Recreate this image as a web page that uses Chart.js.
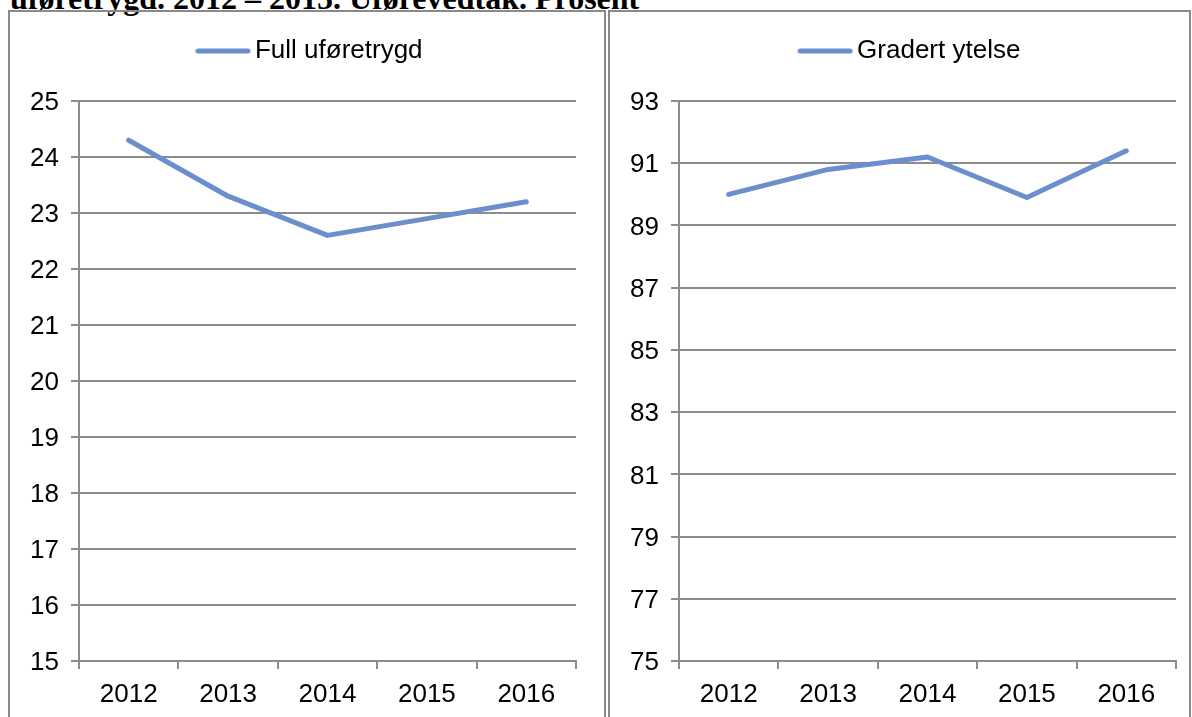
<!DOCTYPE html>
<html><head><meta charset="utf-8">
<script src="https://cdn.jsdelivr.net/npm/chart.js@4/dist/chart.umd.min.js"></script>
<style>
html,body{margin:0;padding:0;background:#fff;width:1192px;height:717px;overflow:hidden;position:relative;font-family:"Liberation Sans",Arial,sans-serif}
#title{position:absolute;left:10px;top:-17px;font:bold 32px/31px "Liberation Serif","Times New Roman",serif;white-space:nowrap;color:#000}
.panel{position:absolute;top:10px;height:800px;border:2px solid #8a8a8a;box-sizing:border-box}
#p1{left:8px;width:598px}
#p2{left:608px;width:583px}
canvas{position:absolute;top:0}
#c1{left:0}
#c2{left:605px}
</style></head><body>
<div id="title">uføretrygd. 2012 – 2015. Uførevedtak. Prosent</div>
<div class="panel" id="p1"></div><div class="panel" id="p2"></div>
<canvas id="c1" width="605" height="717"></canvas>
<canvas id="c2" width="587" height="717"></canvas>
<script>
// ---- data ----
const years = ['2012', '2013', '2014', '2015', '2016'];
const fullLabel = 'Full uføretrygd';
const fullValues = [24.3, 23.3, 22.6, 22.9, 23.2];
const gradertLabel = 'Gradert ytelse';
const gradertValues = [90.0, 90.8, 91.2, 89.9, 91.4];
const fullAxis = { min: 15, max: 25, step: 1 };
const gradertAxis = { min: 75, max: 93, step: 2 };

// ---- style ----
const LINE = '#6A8FCC';
const GRID = '#8C8C8C';
const FONT = '"Liberation Sans", Arial, sans-serif';

// legend sample: a short thick line with round caps (placed in the right part of the symbol box)
const legendLine = document.createElement('canvas');
legendLine.width = 80; legendLine.height = 6;
(function () {
  const g = legendLine.getContext('2d');
  g.strokeStyle = LINE; g.lineWidth = 5; g.lineCap = 'round';
  g.beginPath(); g.moveTo(26.75, 3); g.lineTo(76.75, 3); g.stroke();
})();

function makeChart(id, label, values, axis, pad) {
  return new Chart(document.getElementById(id), {
    type: 'line',
    data: {
      labels: years,
      datasets: [{
        label: label, data: values,
        borderColor: LINE, backgroundColor: LINE, borderWidth: 5,
        pointRadius: 0, pointHoverRadius: 0, tension: 0,
        borderCapStyle: 'round', borderJoinStyle: 'round', fill: false
      }]
    },
    options: {
      responsive: false, animation: false, devicePixelRatio: 1,
      layout: { padding: { top: 28, bottom: 0, left: pad.left, right: pad.right } },
      plugins: {
        legend: {
          display: true, position: 'top', align: 'center',
          labels: {
            usePointStyle: true, pointStyle: legendLine, pointStyleWidth: 61.5,
            padding: 10, color: '#000', font: { size: 26, family: FONT }
          }
        },
        title: { display: true, text: ' ', weight: 100, padding: { top: 0, bottom: 17 }, font: { size: 10, lineHeight: 1 } },
        tooltip: { enabled: false }
      },
      scales: {
        x: {
          offset: true,
          grid: { display: true, drawOnChartArea: false, drawTicks: true, tickLength: 8, offset: true, color: GRID, lineWidth: 2 },
          border: { display: true, color: GRID, width: 2 },
          ticks: { color: '#000', font: { size: 26, family: FONT }, padding: 10, maxRotation: 0, autoSkip: false },
          afterFit: function (s) { s.height = 56; }
        },
        y: {
          min: axis.min, max: axis.max,
          ticks: { stepSize: axis.step, color: '#000', font: { size: 26, family: FONT }, padding: 12, labelOffset: 2 },
          grid: { color: GRID, lineWidth: 2, tickLength: 8, drawTicks: true },
          border: { display: true, color: GRID, width: 2 },
          afterFit: function (s) { s.width = pad.yw; }
        }
      }
    }
  });
}

makeChart('c1', fullLabel, fullValues, fullAxis, { left: 27, right: 29, yw: 52 });
makeChart('c2', gradertLabel, gradertValues, gradertAxis, { left: 22, right: 16, yw: 52 });
</script>
</body></html>
